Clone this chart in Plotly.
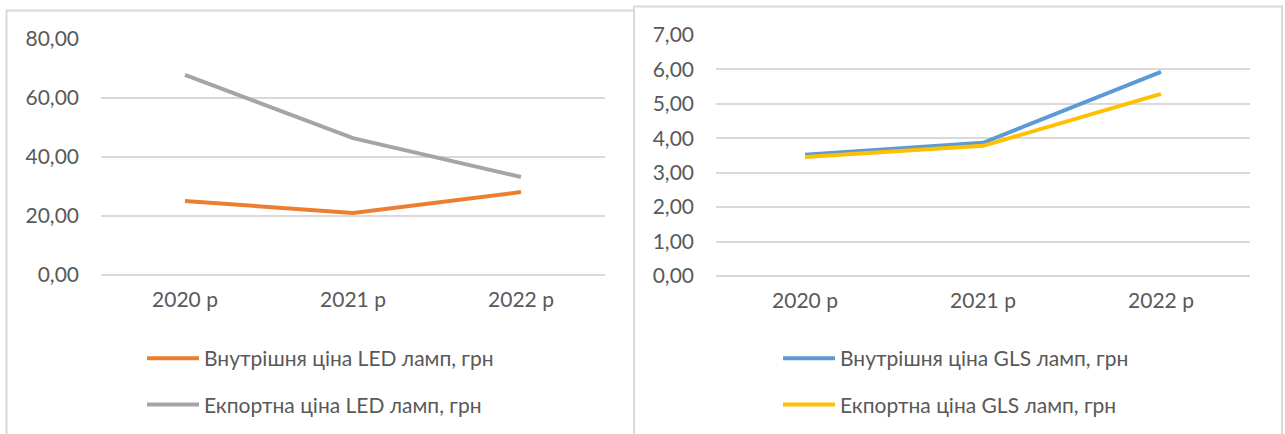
import plotly.graph_objects as go

years = ["2020 р", "2021 р", "2022 р"]
led_domestic = [25.1, 21.0, 28.1]
led_export = [67.8, 46.4, 33.2]
gls_domestic = [3.52, 3.87, 5.93]
gls_export = [3.46, 3.78, 5.29]

names_led = ["Внутрішня ціна LED ламп, грн", "Екпортна ціна LED ламп, грн"]
names_gls = ["Внутрішня ціна GLS ламп, грн", "Екпортна ціна GLS ламп, грн"]

W, H = 1285, 434
FONT = "Lato"
FS = 21
TXT = "#595959"
GRID = "#d9d9d9"

def px(x):
    return x / W

def py(y):
    return 1 - y / H

fig = go.Figure()
fig.add_trace(go.Scatter(x=years, y=led_domestic, name=names_led[0], mode="lines", legendgroup="a",
                         line=dict(color="#ED7D31", width=4), xaxis="x", yaxis="y", legend="legend"))
fig.add_trace(go.Scatter(x=years, y=led_export, name=names_led[1], mode="lines", legendgroup="b",
                         line=dict(color="#A5A5A5", width=4), xaxis="x", yaxis="y", legend="legend"))
fig.add_trace(go.Scatter(x=years, y=gls_domestic, name=names_gls[0], mode="lines", legendgroup="c",
                         line=dict(color="#5B9BD5", width=4), xaxis="x2", yaxis="y2", legend="legend2"))
fig.add_trace(go.Scatter(x=years, y=gls_export, name=names_gls[1], mode="lines", legendgroup="d",
                         line=dict(color="#FFC000", width=4), xaxis="x2", yaxis="y2", legend="legend2"))

xcommon = dict(type="category", range=[-0.5, 2.5], showgrid=False, zeroline=False,
               showline=False, ticks="", tickfont=dict(family=FONT, size=FS, color=TXT),
               ticklabelstandoff=10, fixedrange=True)
ycommon = dict(showgrid=True, gridcolor=GRID, gridwidth=2, zeroline=True, zerolinecolor=GRID,
               zerolinewidth=2, showline=False, ticks="", tickformat=".2f",
               tickfont=dict(family=FONT, size=FS, color=TXT), ticklabelstandoff=21, fixedrange=True)

legcommon = dict(xanchor="left", yanchor="top", bgcolor="rgba(0,0,0,0)",
                 font=dict(family=FONT, size=FS, color=TXT), tracegroupgap=16, itemwidth=52,
                 orientation="v")

fig.update_layout(
    width=W, height=H, margin=dict(l=0, r=0, t=0, b=0, autoexpand=False),
    paper_bgcolor="white", plot_bgcolor="white",
    separators=", ",
    font=dict(family=FONT, color=TXT),
    xaxis=dict(domain=[px(101), px(605)], anchor="y", **xcommon),
    yaxis=dict(domain=[py(275), py(39)], anchor="x", range=[0, 80], dtick=20, **ycommon),
    xaxis2=dict(domain=[px(716), px(1250)], anchor="y2", **xcommon),
    yaxis2=dict(domain=[py(276), py(35)], anchor="x2", range=[0, 7], dtick=1, **ycommon),
    legend=dict(x=px(142), y=py(338), **legcommon),
    legend2=dict(x=px(778), y=py(338), **legcommon),
    showlegend=True,
)

# chart frames
fig.add_shape(type="rect", xref="paper", yref="paper", x0=px(6.5), x1=px(634), y0=py(440), y1=py(10.5),
              line=dict(color=GRID, width=2), fillcolor="rgba(0,0,0,0)", layer="below")
fig.add_shape(type="rect", xref="paper", yref="paper", x0=px(634), x1=px(1282), y0=py(440), y1=py(6.5),
              line=dict(color=GRID, width=2), fillcolor="rgba(0,0,0,0)", layer="below")

fig.write_html("out.html")
